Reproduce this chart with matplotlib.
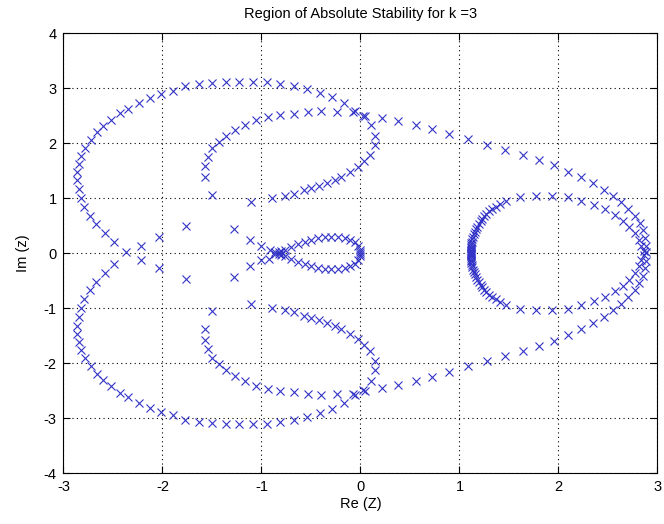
import matplotlib
matplotlib.use("Agg")
import matplotlib.pyplot as plt

plt.rcParams['font.family'] = ['Liberation Sans', 'DejaVu Sans']
plt.rcParams['axes.unicode_minus'] = False

# ---- data (Re, Im of each plotted x) ----

# outer curve, upper half (right end -> top -> left end)
outer_re = [2.879, 2.879, 2.872, 2.852, 2.822, 2.771, 2.704, 2.633, 2.552, 2.458,
            2.347, 2.232, 2.098, 1.956, 1.808, 1.640, 1.458, 1.279, 1.081, 0.899,
            0.724, 0.560, 0.382, 0.217, 0.050, -0.060, -0.168, -0.283, -0.411, -0.545,
            -0.670, -0.808, -0.949, -1.084, -1.226, -1.360, -1.498, -1.636, -1.771, -1.892,
            -2.017, -2.128, -2.239, -2.347, -2.431, -2.525, -2.599, -2.663, -2.724, -2.778,
            -2.818, -2.845, -2.859, -2.859, -2.848, -2.825, -2.795, -2.734, -2.667, -2.579,
            -2.485, -2.364]
outer_im = [0.012, 0.133, 0.273, 0.412, 0.545, 0.667, 0.806, 0.927, 1.042, 1.152,
            1.273, 1.382, 1.479, 1.594, 1.697, 1.788, 1.879, 1.970, 2.073, 2.164,
            2.255, 2.330, 2.394, 2.454, 2.500, 2.590, 2.727, 2.836, 2.909, 2.982,
            3.042, 3.073, 3.115, 3.115, 3.115, 3.115, 3.091, 3.067, 3.030, 2.952,
            2.891, 2.812, 2.727, 2.624, 2.539, 2.424, 2.303, 2.194, 2.055, 1.909,
            1.770, 1.618, 1.467, 1.321, 1.164, 0.994, 0.836, 0.679, 0.533, 0.364,
            0.200, 0.012]

# outer curve, lower half
outer_re_lo = [2.879, 2.872, 2.852, 2.818, 2.771, 2.704, 2.633, 2.552, 2.458,
               2.347, 2.232, 2.098, 1.956, 1.808, 1.640, 1.458, 1.279, 1.081, 0.899,
               0.724, 0.560, 0.382, 0.217, 0.050, -0.060, -0.168, -0.283, -0.411, -0.545,
               -0.670, -0.808, -0.949, -1.084, -1.226, -1.360, -1.498, -1.636, -1.771, -1.892,
               -2.017, -2.128, -2.239, -2.347, -2.431, -2.525, -2.599, -2.663, -2.724, -2.778,
               -2.818, -2.845, -2.859, -2.859, -2.848, -2.825, -2.795, -2.734, -2.667, -2.579,
               -2.485]
outer_im_lo = [-0.152, -0.273, -0.412, -0.545, -0.667, -0.806, -0.927, -1.042, -1.164,
               -1.273, -1.382, -1.485, -1.594, -1.697, -1.776, -1.879, -1.970, -2.061, -2.164,
               -2.255, -2.330, -2.394, -2.454, -2.500, -2.590, -2.727, -2.836, -2.909, -2.982,
               -3.042, -3.073, -3.115, -3.115, -3.115, -3.115, -3.091, -3.067, -3.030, -2.952,
               -2.891, -2.812, -2.727, -2.624, -2.539, -2.424, -2.303, -2.194, -2.055, -1.909,
               -1.770, -1.618, -1.467, -1.321, -1.164, -0.994, -0.836, -0.679, -0.533, -0.364,
               -0.194]

# inner C-shaped curve, upper half
inner_re = [-1.498, -1.572, -1.572, -1.542, -1.502, -1.434, -1.354, -1.266, -1.168, -1.057,
            -0.933, -0.808, -0.670, -0.529, -0.394, -0.242, -0.080, 0.027, 0.106, 0.145,
            0.145, 0.101, 0.037, -0.030, -0.108, -0.192, -0.259, -0.337, -0.418, -0.495,
            -0.572, -0.670, -0.764, -0.892, -1.101]
inner_im = [1.061, 1.382, 1.576, 1.739, 1.909, 2.024, 2.133, 2.242, 2.327, 2.412,
            2.467, 2.503, 2.533, 2.558, 2.582, 2.564, 2.560, 2.485, 2.333, 2.133,
            1.970, 1.788, 1.679, 1.564, 1.467, 1.382, 1.333, 1.273, 1.224, 1.182,
            1.139, 1.079, 1.042, 1.000, 0.921]

# inner C-shaped curve, lower half
inner_re_lo = inner_re
inner_im_lo = [-1.061, -1.382, -1.576, -1.739, -1.909, -2.024, -2.133, -2.242, -2.327, -2.412,
               -2.467, -2.503, -2.533, -2.558, -2.582, -2.564, -2.560, -2.485, -2.333, -2.133,
               -1.970, -1.788, -1.679, -1.564, -1.467, -1.382, -1.333, -1.273, -1.224, -1.182,
               -1.139, -1.079, -1.042, -1.000, -0.930]

# small loop near the origin
loop_re = [-0.860, -0.822, -0.800, -0.764, -0.697, -0.630, -0.562, -0.495, -0.428, -0.360,
           -0.293, -0.226, -0.158, -0.108, -0.057, -0.024, -0.005, 0.000]
loop_im = [0.020, 0.012, 0.040, 0.061, 0.109, 0.164, 0.206, 0.242, 0.267, 0.285,
           0.291, 0.291, 0.273, 0.242, 0.194, 0.121, 0.060, 0.020]
loop_re_lo = loop_re
loop_im_lo = [-0.020, -0.012, -0.040, -0.061, -0.109, -0.164, -0.206, -0.242, -0.267, -0.285,
              -0.291, -0.291, -0.273, -0.242, -0.194, -0.121, -0.060, -0.020]

# scattered points between the curves
scat_re = [-2.212, -2.035, -1.760, -1.280, -1.120, -1.000, -0.910]
scat_im = [0.121, 0.300, 0.485, 0.435, 0.240, 0.125, 0.050]
scat_re_lo = [-2.212, -2.035, -1.760, -1.280, -1.120, -1.000, -0.920]
scat_im_lo = [-0.121, -0.280, -0.470, -0.440, -0.240, -0.120, -0.100]

# right loop, upper half
right_re = [1.113, 1.112, 1.113, 1.113, 1.116, 1.113, 1.118, 1.120, 1.123, 1.130,
            1.137, 1.145, 1.153, 1.165, 1.180, 1.195, 1.214, 1.230, 1.248, 1.270,
            1.299, 1.330, 1.366, 1.410, 1.467, 1.616, 1.774, 1.936, 2.098, 2.232,
            2.357, 2.468, 2.569, 2.650, 2.717, 2.771, 2.811, 2.838, 2.860]
right_im = [0.000, 0.027, 0.045, 0.090, 0.060, 0.118, 0.140, 0.185, 0.209, 0.255,
            0.300, 0.345, 0.390, 0.435, 0.482, 0.530, 0.573, 0.620, 0.664, 0.710,
            0.755, 0.800, 0.845, 0.890, 0.940, 1.018, 1.042, 1.042, 1.018, 0.945,
            0.879, 0.806, 0.697, 0.588, 0.473, 0.364, 0.242, 0.121, 0.030]
right_re_lo = right_re
right_im_lo = [-0.010, -0.027, -0.045, -0.090, -0.060, -0.118, -0.140, -0.185, -0.209, -0.255,
               -0.300, -0.345, -0.390, -0.435, -0.482, -0.530, -0.573, -0.620, -0.664, -0.710,
               -0.755, -0.800, -0.845, -0.890, -0.952, -1.012, -1.042, -1.042, -1.018, -0.945,
               -0.879, -0.800, -0.685, -0.594, -0.485, -0.364, -0.242, -0.121, -0.030]

# ---- plot ----
fig = plt.figure(figsize=(6.64, 5.24), dpi=100)
ax = fig.add_axes([0.0956, 0.0973, 0.8946, 0.8397])

mk = dict(linestyle='none', marker='x', color=(0.2, 0.2, 0.78), markersize=6, markeredgewidth=0.8)
for re, im in [(outer_re, outer_im), (outer_re_lo, outer_im_lo),
               (inner_re, inner_im), (inner_re_lo, inner_im_lo),
               (loop_re, loop_im), (loop_re_lo, loop_im_lo),
               (scat_re, scat_im), (scat_re_lo, scat_im_lo),
               (right_re, right_im), (right_re_lo, right_im_lo)]:
    ax.plot(re, im, **mk)

ax.set_xlim(-3, 3)
ax.set_ylim(-4, 4)
ax.set_xticks(range(-3, 4))
ax.set_yticks(range(-4, 5))
ax.grid(True, linestyle=(0, (1, 3)), color='black', linewidth=0.8)
ax.tick_params(direction='in', length=5, labelsize=10.5, top=True, right=True,
               labeltop=False, labelright=False, pad=5)
for s in ax.spines.values():
    s.set_linewidth(0.8)

ax.set_title("Region of Absolute Stability for k =3", fontsize=10.5, pad=11)
ax.set_xlabel("Re (Z)", fontsize=10.5, labelpad=2)
ax.set_ylabel("Im (z)", fontsize=10.5, labelpad=10)

fig.savefig("out.png", dpi=100)
